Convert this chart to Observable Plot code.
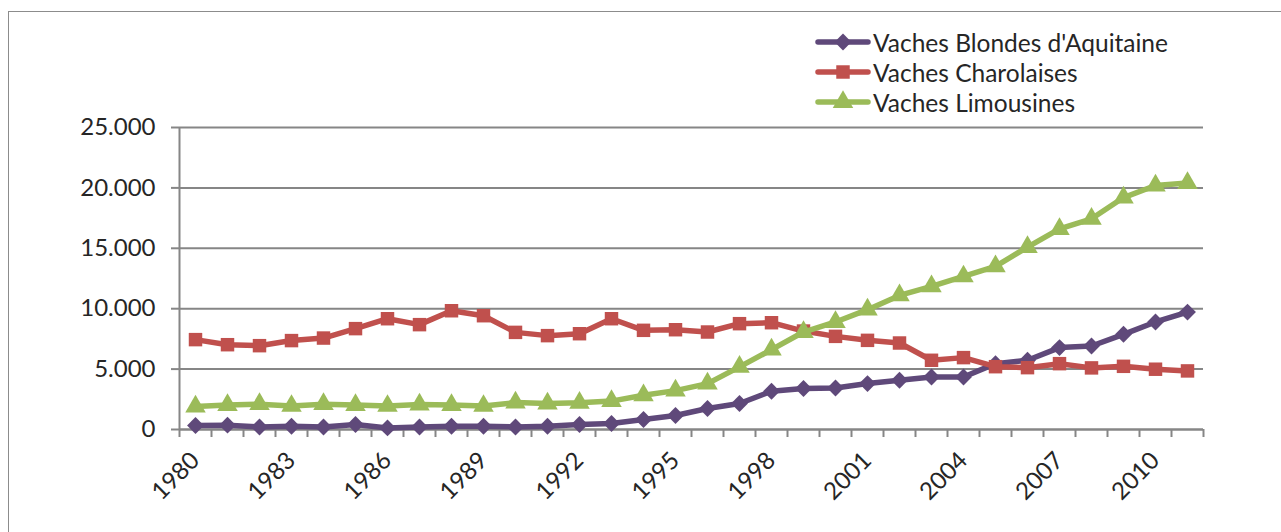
<!DOCTYPE html>
<html>
<head>
<meta charset="utf-8">
<script src="https://cdn.jsdelivr.net/npm/d3@7"></script>
<script src="https://cdn.jsdelivr.net/npm/@observablehq/plot@0.6"></script>
<style>
  html, body { margin: 0; padding: 0; background: #fff; }
  #wrap { position: relative; width: 1281px; height: 532px; overflow: hidden; font-family: Lato, "Liberation Sans", sans-serif; }
  #frame { position: absolute; left: 8px; top: 11px; width: 1400px; height: 600px; border-left: 1.5px solid #8c8c8c; border-top: 1.5px solid #8c8c8c; }
  #chart { position: absolute; left: 0; top: 0; }
  #legend { position: absolute; left: 815px; top: 27px; }
  .row { display: flex; align-items: center; height: 30px; }
  .row span { font-size: 24.5px; color: #262626; margin-left: 2px; white-space: nowrap; }
</style>
</head>
<body>
<div id="wrap">
  <div id="frame"></div>
  <div id="chart"></div>
  <div id="legend"></div>
</div>
<script>
const years = [1980,1981,1982,1983,1984,1985,1986,1987,1988,1989,1990,1991,1992,1993,1994,1995,1996,1997,1998,1999,2000,2001,2002,2003,2004,2005,2006,2007,2008,2009,2010,2011];
const blondes = [330,360,210,270,210,410,130,210,270,270,210,270,410,500,830,1160,1740,2150,3170,3390,3440,3800,4080,4350,4350,5450,5730,6780,6910,7880,8900,9720];
const charolaises = [7440,7020,6940,7360,7570,8350,9170,8680,9830,9420,8040,7770,7930,9170,8210,8260,8070,8760,8840,8150,7710,7380,7160,5730,5950,5200,5120,5450,5100,5230,4990,4850];
const limousines = [1900,2020,2100,1950,2100,2020,1950,2070,2020,1950,2230,2150,2210,2350,2830,3220,3800,5180,6610,8070,8900,9920,11100,11850,12670,13500,15100,16600,17440,19200,20200,20400];
const seriesNames = ["Vaches Blondes d'Aquitaine", "Vaches Charolaises", "Vaches Limousines"];
const seriesColors = ["#5f497a", "#c0504d", "#9bbb59"];
const seriesSymbols = ["diamond2", "square", "triangle"];
const yTicks = [0, 5000, 10000, 15000, 20000, 25000];
const xLabelYears = [1980,1983,1986,1989,1992,1995,1998,2001,2004,2007,2010];

const seriesValues = [blondes, charolaises, limousines];
const data = [];
seriesValues.forEach((vals, i) => vals.forEach((v, j) => data.push({year: years[j], value: v, series: seriesNames[i]})));
const bounds = [years[0] - 0.5, ...years.map(y => y + 0.5)];
const fmt = d => d === 0 ? "0" : d3.format(",")(d).replace(/,/g, ".");
const gray = "#868686";

const marks = [
  Plot.gridY(yTicks, {stroke: gray, strokeOpacity: 1, strokeWidth: 2}),
  Plot.axisY(yTicks, {tickSize: 8, tickPadding: 16, tickFormat: fmt, stroke: gray, strokeWidth: 2, fontSize: 24, fill: "#262626", label: null}),
  Plot.axisX(bounds, {tickSize: 8, tickFormat: () => "", stroke: gray, strokeWidth: 2, label: null}),
  Plot.axisX(xLabelYears, {tickSize: 0, tickPadding: 27, tickRotate: -45, tickFormat: d => String(d), fontSize: 24, fill: "#262626", label: null}),
  Plot.ruleX([bounds[0]], {stroke: gray, strokeWidth: 2}),
  Plot.ruleY([0], {stroke: gray, strokeWidth: 2})
];
seriesNames.forEach((name, i) => {
  const d = data.filter(r => r.series === name);
  marks.push(Plot.line(d, {x: "year", y: "value", stroke: seriesColors[i], strokeWidth: 5.5, strokeLinejoin: "round", strokeLinecap: "round"}));
  marks.push(Plot.dot(d, {x: "year", y: "value", fill: seriesColors[i], symbol: () => seriesSymbols[i], r: 7.6, stroke: "none"}));
});

const chart = Plot.plot({
  width: 1281,
  height: 532,
  marginLeft: 179,
  marginRight: 78,
  marginTop: 127,
  marginBottom: 103,
  style: {fontFamily: "Lato, 'Liberation Sans', sans-serif", background: "transparent", overflow: "visible"},
  x: {type: "linear", domain: [bounds[0], bounds[bounds.length - 1]]},
  y: {domain: [0, 25000]},
  symbol: {type: "identity"},
  marks
});
document.getElementById("chart").appendChild(chart);

// legend
const legend = d3.select("#legend");
const symMap = {diamond2: d3.symbolDiamond2, square: d3.symbolSquare, triangle: d3.symbolTriangle};
seriesNames.forEach((name, i) => {
  const row = legend.append("div").attr("class", "row");
  const s = row.append("svg").attr("width", 56).attr("height", 30);
  s.append("line").attr("x1", 3).attr("x2", 53).attr("y1", 15).attr("y2", 15)
    .attr("stroke", seriesColors[i]).attr("stroke-width", 5.5).attr("stroke-linecap", "round");
  s.append("path").attr("transform", "translate(28,15)")
    .attr("d", d3.symbol(symMap[seriesSymbols[i]], Math.PI * 7.6 * 7.6)())
    .attr("fill", seriesColors[i]);
  row.append("span").text(name);
});
</script>
</body>
</html>
